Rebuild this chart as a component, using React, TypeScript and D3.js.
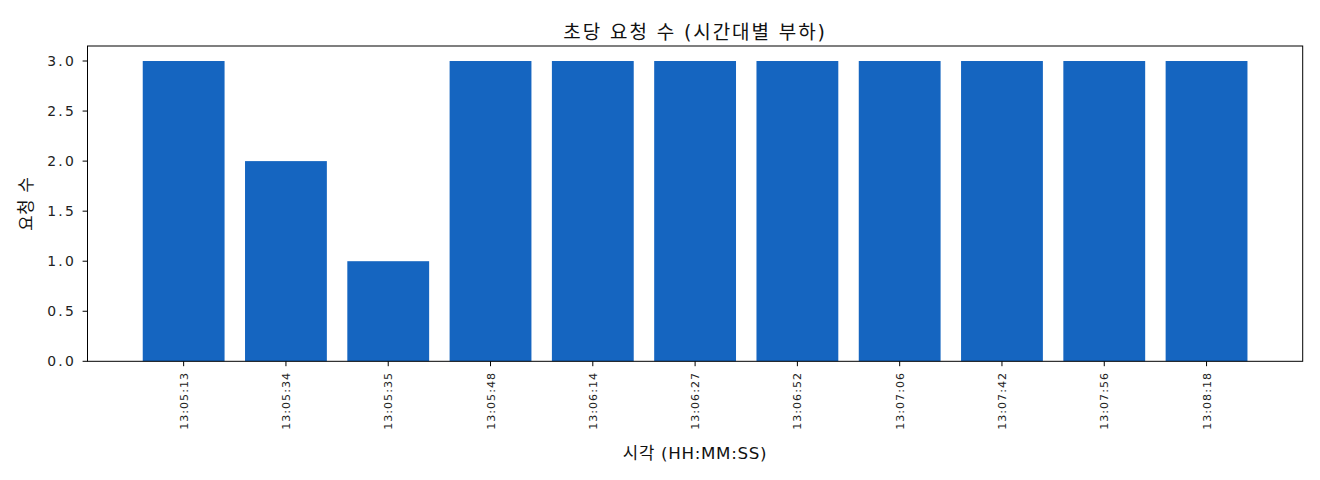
import React from "react";
import * as d3 from "d3";

const categories = [
  "13:05:13", "13:05:34", "13:05:35", "13:05:48", "13:06:14", "13:06:27",
  "13:06:52", "13:07:06", "13:07:42", "13:07:56", "13:08:18",
];
const requests = [3, 2, 1, 3, 3, 3, 3, 3, 3, 3, 3];
const yTicks = [0, 0.5, 1.0, 1.5, 2.0, 2.5, 3.0];

const W = 1320;
const H = 480;
const M = { left: 87.5, right: 1302.7, top: 46, bottom: 361.3 };
const FONT = "'DejaVu Sans', 'Noto Sans CJK KR', sans-serif";
const BAR = "#1565c0";

export default function App() {
  const n = categories.length;
  const x = d3.scaleLinear().domain([-0.94, n - 1 + 0.94]).range([M.left, M.right]);
  const y = d3.scaleLinear().domain([0, 3.15]).range([M.bottom, M.top]);
  const bw = x(0.8) - x(0);

  return (
    <svg width={W} height={H} style={{ position: "absolute", left: 0, top: 0, background: "#fff" }} fontFamily={FONT}>
      <rect x={0} y={0} width={W} height={H} fill="#fff" />
      {categories.map((c, i) => (
        <rect key={c} x={x(i) - bw / 2} y={y(requests[i])} width={bw} height={y(0) - y(requests[i])} fill={BAR} />
      ))}
      <rect x={M.left} y={M.top} width={M.right - M.left} height={M.bottom - M.top} fill="none" stroke="#000" strokeWidth={1} />
      {yTicks.map((t) => (
        <g key={t} transform={`translate(0,${y(t)})`}>
          <line x1={M.left - 4.9} x2={M.left} stroke="#000" strokeWidth={1} />
          <text x={M.left - 11.5} dy="0.36em" textAnchor="end" fontSize={13.9} letterSpacing={2.2} fill="#222">{t.toFixed(1)}</text>
        </g>
      ))}
      {categories.map((c, i) => (
        <g key={c} transform={`translate(${x(i)},${M.bottom})`}>
          <line y1={0} y2={4.9} stroke="#000" strokeWidth={1} />
          <text transform="translate(0,10.7) rotate(-90)" dy="0.36em" textAnchor="end" fontSize={11.1} letterSpacing={1} fill="#222">{c}</text>
        </g>
      ))}
      <text x={(M.left + M.right) / 2} y={39} textAnchor="middle" fontSize={19} letterSpacing={1.9} fill="#111">초당 요청 수 (시간대별 부하)</text>
      <text x={(M.left + M.right) / 2} y={458.5} textAnchor="middle" fontSize={16.7} letterSpacing={0.7} fill="#111">시각 (HH:MM:SS)</text>
      <text transform={`translate(32,${(M.top + M.bottom) / 2}) rotate(-90)`} textAnchor="middle" fontSize={16.7} letterSpacing={0.7} fill="#111">요청 수</text>
    </svg>
  );
}
